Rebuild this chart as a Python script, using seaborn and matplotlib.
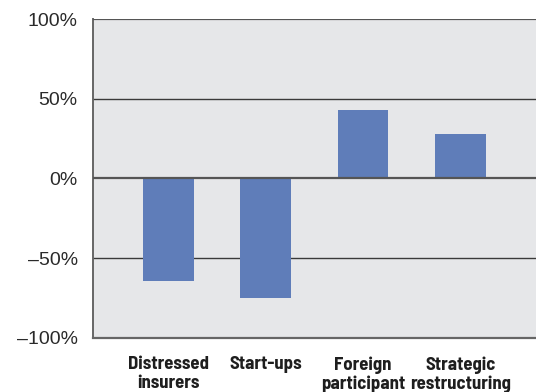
import matplotlib
matplotlib.use("Agg")
import matplotlib.pyplot as plt
import seaborn as sns
import pandas as pd

# Change in value by insurer category (percent)
categories = ["Distressed\ninsurers", "Start-ups", "Foreign\nparticipant", "Strategic\nrestructuring"]
values = [-64, -75, 43, 28]
y_ticks = [-100, -50, 0, 50, 100]

df = pd.DataFrame({"category": categories, "value": values})

sns.set_theme(style="white")
plt.rcParams["font.family"] = ["Liberation Sans", "DejaVu Sans"]

fig = plt.figure(figsize=(5.36, 3.92), dpi=100)
ax = fig.add_axes([0.1735, 0.1378, 0.8285, 0.8137])
ax.set_facecolor("#e6e7e9")

sns.barplot(data=df, x="category", y="value", color="#5f7db9",
            saturation=1, width=0.52, linewidth=0, ax=ax, zorder=3)

ax.set_xlim(-0.775, 3.79)
ax.set_ylim(-100, 100)

# Horizontal reference lines
for y in (50, -50):
    ax.axhline(y, color="#3a3a3a", lw=1.0, zorder=2)
ax.axhline(0, color="#555555", lw=1.6, zorder=4)
ax.axhline(100, color="#555555", lw=1.6, zorder=4)

for side in ("top", "right"):
    ax.spines[side].set_visible(False)
ax.spines["left"].set_color("#666666")
ax.spines["left"].set_linewidth(1.4)
ax.spines["bottom"].set_color("#666666")
ax.spines["bottom"].set_linewidth(1.6)

ax.set_yticks(y_ticks)
ax.set_yticklabels([f"{v}%".replace("-", "\u2013") for v in y_ticks],
                   fontsize=14, color="#2a2a2a")
ax.tick_params(axis="y", length=0, pad=11)
ax.tick_params(axis="x", length=0, pad=13)
for lbl in ax.get_xticklabels():
    lbl.set_fontfamily(["Barlow Semi Condensed", "DejaVu Sans"])
    lbl.set_fontweight("bold")
    lbl.set_fontsize(13.5)
    lbl.set_color("#1e1e1e")
    lbl.set_linespacing(1.18)
ax.set_xlabel("")
ax.set_ylabel("")

fig.savefig("out.png", dpi=100)
